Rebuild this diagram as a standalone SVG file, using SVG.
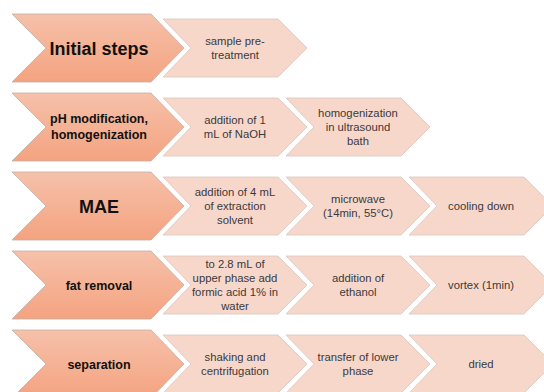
<svg xmlns="http://www.w3.org/2000/svg" xmlns:xlink="http://www.w3.org/1999/xlink" width="544" height="392" viewBox="0 0 544 392">
<defs>
<linearGradient id="gBig" x1="0" y1="0" x2="0" y2="1">
<stop offset="0" stop-color="#F6C1AA"/>
<stop offset="1" stop-color="#F4A380"/>
</linearGradient>
<path id="big" d="M0,0 L139,0 L172,34 L139,68 L0,68 L34,34 Z"/>
<path id="small" d="M0,0 L115,0 L144,29 L115,58 L0,58 L28,29 Z"/>
<style>
.bigShape{fill:url(#gBig);stroke:#C4AEA4;stroke-width:0.8}
.smallShape{fill:#F8D7CB;stroke:#D9C6BE;stroke-width:0.8}
.bt{font-family:"Liberation Sans",Arial,sans-serif;font-weight:bold;fill:#111;text-anchor:middle}
.st{font-family:"Liberation Sans",Arial,sans-serif;font-size:11.3px;fill:#3a3a3a;text-anchor:middle}
</style>
</defs>
<rect width="544" height="392" fill="#fff"/>
<g id="connectors"></g>

<g id="row1-head"><use xlink:href="#big" class="bigShape" x="12" y="14"/><text class="bt" x="99" y="54.5" font-size="18">Initial steps</text></g>
<g id="row1-s1"><use xlink:href="#small" class="smallShape" x="163" y="19"/><text class="st"><tspan x="235" y="45">sample pre-</tspan><tspan x="235" y="59">treatment</tspan></text></g>

<g id="row2-head"><use xlink:href="#big" class="bigShape" x="12" y="93"/><text class="bt" font-size="12.5"><tspan x="99" y="123">pH modification,</tspan><tspan x="99" y="139">homogenization</tspan></text></g>
<g id="row2-s1"><use xlink:href="#small" class="smallShape" x="163" y="98"/><text class="st"><tspan x="235" y="124">addition of 1</tspan><tspan x="235" y="138">mL of NaOH</tspan></text></g>
<g id="row2-s2"><use xlink:href="#small" class="smallShape" x="286" y="98"/><text class="st"><tspan x="358" y="117">homogenization</tspan><tspan x="358" y="131">in ultrasound</tspan><tspan x="358" y="145">bath</tspan></text></g>

<g id="row3-head"><use xlink:href="#big" class="bigShape" x="12" y="172"/><text class="bt" x="99" y="212.5" font-size="18">MAE</text></g>
<g id="row3-s1"><use xlink:href="#small" class="smallShape" x="163" y="177"/><text class="st"><tspan x="235" y="196">addition of 4 mL</tspan><tspan x="235" y="210">of extraction</tspan><tspan x="235" y="224">solvent</tspan></text></g>
<g id="row3-s2"><use xlink:href="#small" class="smallShape" x="286" y="177"/><text class="st"><tspan x="358" y="203">microwave</tspan><tspan x="358" y="217">(14min, 55°C)</tspan></text></g>
<g id="row3-s3"><use xlink:href="#small" class="smallShape" x="409" y="177"/><text class="st" x="481" y="210">cooling down</text></g>

<g id="row4-head"><use xlink:href="#big" class="bigShape" x="12" y="251"/><text class="bt" x="99" y="289.5" font-size="12.5">fat removal</text></g>
<g id="row4-s1"><use xlink:href="#small" class="smallShape" x="163" y="256"/><text class="st"><tspan x="235" y="268">to 2.8 mL of</tspan><tspan x="235" y="282">upper phase add</tspan><tspan x="235" y="296">formic acid 1% in</tspan><tspan x="235" y="310">water</tspan></text></g>
<g id="row4-s2"><use xlink:href="#small" class="smallShape" x="286" y="256"/><text class="st"><tspan x="358" y="282">addition of</tspan><tspan x="358" y="296">ethanol</tspan></text></g>
<g id="row4-s3"><use xlink:href="#small" class="smallShape" x="409" y="256"/><text class="st" x="481" y="289">vortex (1min)</text></g>

<g id="row5-head"><use xlink:href="#big" class="bigShape" x="12" y="330"/><text class="bt" x="99" y="368.5" font-size="12.5">separation</text></g>
<g id="row5-s1"><use xlink:href="#small" class="smallShape" x="163" y="335"/><text class="st"><tspan x="235" y="361">shaking and</tspan><tspan x="235" y="375">centrifugation</tspan></text></g>
<g id="row5-s2"><use xlink:href="#small" class="smallShape" x="286" y="335"/><text class="st"><tspan x="358" y="361">transfer of lower</tspan><tspan x="358" y="375">phase</tspan></text></g>
<g id="row5-s3"><use xlink:href="#small" class="smallShape" x="409" y="335"/><text class="st" x="481" y="368">dried</text></g>
</svg>
